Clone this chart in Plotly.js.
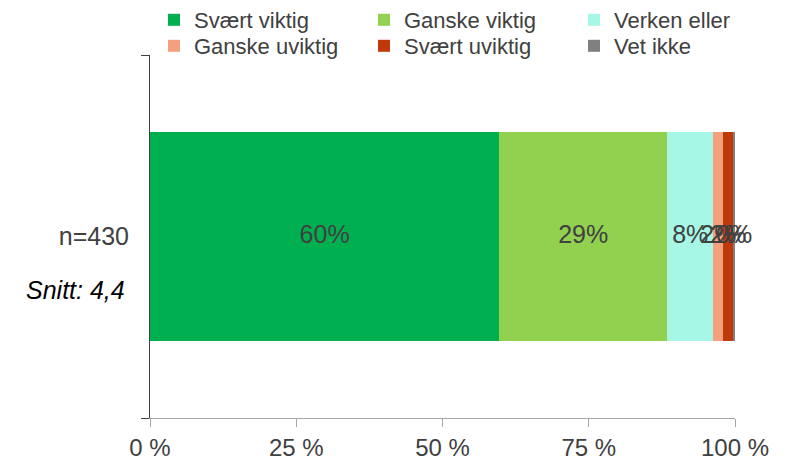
<!DOCTYPE html>
<html>
<head>
<meta charset="utf-8">
<script src="https://cdn.plot.ly/plotly-3.0.1.min.js"></script>
<style>html,body{margin:0;padding:0;background:#fff;}#chart{width:789px;height:461px;}</style>
</head>
<body>
<div id="chart"></div>
<script>
const categories = ["n=430"];
const seriesNames = ["Svært viktig", "Ganske viktig", "Verken eller", "Ganske uviktig", "Svært uviktig", "Vet ikke"];
const seriesValues = [[59.7], [28.7], [7.9], [1.7], [1.7], [0.3]];
const seriesColors = ["#00B050", "#92D050", "#A6F7E6", "#F4A07E", "#C0390B", "#808080"];
const xTickVals = [0, 25, 50, 75, 100];
const xTickText = ["0 %", "25 %", "50 %", "75 %", "100 %"];
const subtitle = "Snitt: 4,4";

const FONT = "Liberation Sans, Arial, sans-serif";
const TXT = "#404040";

const legendColX = [154, 364, 574];
const legendRowY = [20, 46];
const legendIds = seriesNames.map((_, i) => i === 0 ? "legend" : "legend" + (i + 1));

const traces = seriesNames.map((name, i) => ({
  type: "bar",
  orientation: "h",
  name: name,
  y: categories,
  x: seriesValues[i],
  legend: legendIds[i],
  marker: {color: seriesColors[i], line: {width: 0}},
  hoverinfo: "name+x"
}));

// data labels centred in each stacked segment (midpoints of the cumulative stack)
const labelX = [], labelText = [], labelY = [];
let cum = 0;
seriesValues.forEach(vals => {
  const v = vals[0];
  labelX.push(cum + v / 2);
  labelY.push(categories[0]);
  labelText.push(Math.round(v) + "%");
  cum += v;
});
traces.push({
  type: "scatter",
  mode: "text",
  x: labelX,
  y: labelY,
  text: labelText,
  textposition: "middle center",
  textfont: {family: FONT, size: 25, color: TXT},
  cliponaxis: false,
  showlegend: false,
  hoverinfo: "skip"
});

const layout = {
  width: 789,
  height: 461,
  margin: {l: 150, r: 54, t: 55, b: 43, autoexpand: false},
  paper_bgcolor: "#ffffff",
  plot_bgcolor: "#ffffff",
  barmode: "stack",
  bargap: 0.424,
  font: {family: FONT, size: 20, color: TXT},
  showlegend: true,
  xaxis: {
    range: [0, 100],
    tickvals: xTickVals,
    ticktext: xTickText,
    showgrid: false,
    zeroline: false,
    showline: true,
    linecolor: "#A6A6A6",
    linewidth: 1,
    ticks: "outside",
    ticklen: 8,
    tickcolor: "#A6A6A6",
    tickfont: {family: FONT, size: 24, color: TXT},
    fixedrange: true
  },
  yaxis: {
    type: "category",
    range: [-0.5, 0.5],
    showgrid: false,
    zeroline: false,
    showline: true,
    linecolor: "#404040",
    linewidth: 1,
    ticks: "outside",
    tickson: "boundaries",
    ticklen: 8,
    tickcolor: "#404040",
    ticklabelstandoff: 15,
    tickfont: {family: FONT, size: 25, color: TXT},
    fixedrange: true
  },
  annotations: [{
    text: "<i>" + subtitle + "</i>",
    xref: "paper", yref: "y",
    x: 0, y: categories[0],
    xanchor: "right", yanchor: "middle",
    xshift: -23, yshift: -53,
    showarrow: false,
    font: {family: FONT, size: 25, color: "#000000"}
  }]
};

legendIds.forEach((id, i) => {
  const col = i % 3, row = Math.floor(i / 3);
  layout[id] = {
    orientation: "v",
    xref: "container", yref: "container",
    x: legendColX[col] / 789, xanchor: "left",
    y: 1 - legendRowY[row] / 461, yanchor: "middle",
    bgcolor: "rgba(0,0,0,0)",
    borderwidth: 0,
    font: {family: FONT, size: 22, color: TXT},
    itemclick: false
  };
});

Plotly.newPlot("chart", traces, layout, {displayModeBar: false, staticPlot: true});
</script>
</body>
</html>
